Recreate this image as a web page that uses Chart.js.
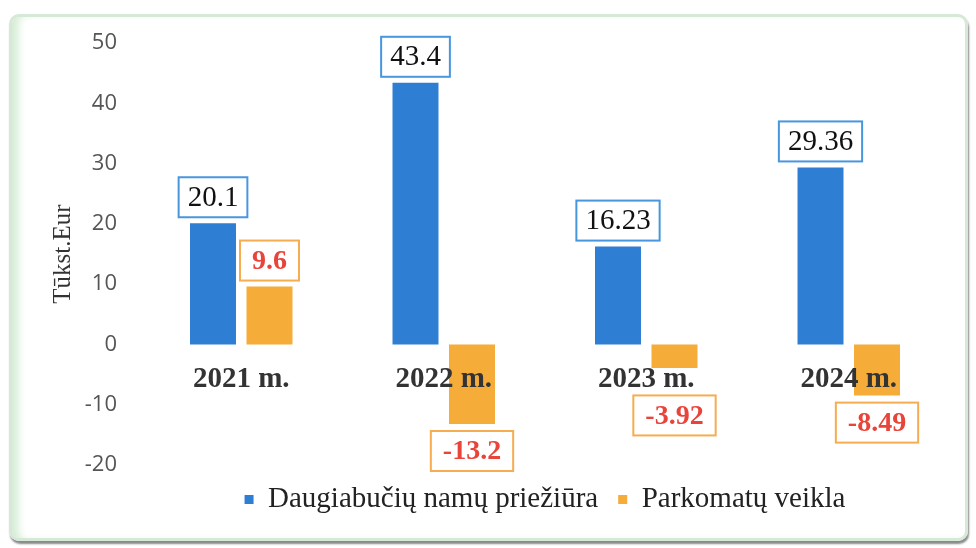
<!DOCTYPE html>
<html>
<head>
<meta charset="utf-8">
<script src="https://cdn.jsdelivr.net/npm/chart.js@4"></script>
<style>
    html, body { margin: 0; padding: 0; background: #fff; }
    #wrap { position: relative; width: 976px; height: 548px; }
    #frame {
        position: absolute; left: 9px; top: 14px; width: 953px; height: 521px;
        border: 3px solid #d6e8d6; border-radius: 10px;
        box-shadow: inset 10px 0 8px -4px #d4ecd4, 1px 3px 2px #8a8a8a;
    }
    canvas { position: absolute; left: 0; top: 0; }
</style>
</head>
<body>
<div id="wrap">
    <div id="frame"></div>
    <canvas id="chart" width="976" height="548"></canvas>
</div>
<script>
const YEARS = ["2021 m.", "2022 m.", "2023 m.", "2024 m."];
const NAMAI = [20.1, 43.4, 16.23, 29.36];
const PARKOMATAI = [9.6, -13.2, -3.92, -8.49];
const Y_TICKS = { min: -20, max: 50, step: 10 };

const BLUE = "rgb(46, 126, 212)";
const ORANGE = "rgb(245, 172, 56)";

// value boxes above / below each bar
const valueBoxes = {
    id: "valueBoxes",
    afterDatasetsDraw(chart) {
        const ctx = chart.ctx;
        const zeroY = chart.scales.y.getPixelForValue(0);
        chart.data.datasets.forEach((ds, di) => {
            const meta = chart.getDatasetMeta(di);
            const st = ds.boxStyle;
            meta.data.forEach((bar, i) => {
                const v = ds.data[i];
                const text = String(v);
                ctx.save();
                ctx.font = st.font;
                const w = ctx.measureText(text).width + st.padX * 2;
                const h = 40;
                let top;
                if (v >= 0) {
                    top = bar.y - 6 - h;
                } else {
                    // keep clear of the category label under the zero line
                    top = Math.max(bar.y + 7, zeroY + 51);
                }
                const left = bar.x - w / 2;
                ctx.fillStyle = "#fff";
                ctx.fillRect(left, top, w, h);
                ctx.lineWidth = 2;
                ctx.strokeStyle = st.border;
                ctx.strokeRect(left, top, w, h);
                ctx.fillStyle = st.color;
                ctx.textAlign = "center";
                ctx.textBaseline = "middle";
                ctx.fillText(text, bar.x, top + h / 2 + 1);
                ctx.restore();
            });
        });
    }
};

new Chart(
    document.getElementById("chart").getContext("2d"),
    {
        type: "bar",
        data: {
            labels: YEARS,
            datasets: [
                {
                    label: "Daugiabučių namų priežiūra",
                    data: NAMAI,
                    backgroundColor: BLUE,
                    categoryPercentage: 0.558,
                    barPercentage: 0.814,
                    boxStyle: { font: "29px 'Liberation Serif', serif", color: "#111", border: "rgb(72, 150, 222)", padX: 9 }
                },
                {
                    label: "Parkomatų veikla",
                    data: PARKOMATAI,
                    backgroundColor: ORANGE,
                    categoryPercentage: 0.558,
                    barPercentage: 0.814,
                    boxStyle: { font: "bold 28px 'Liberation Serif', serif", color: "rgb(232, 68, 58)", border: "rgb(246, 172, 80)", padX: 12 }
                }
            ]
        },
        options: {
            responsive: false,
            animation: false,
            layout: { padding: { left: 48, right: 26, top: 43, bottom: 24 } },
            plugins: {
                tooltip: { enabled: false },
                legend: {
                    position: "bottom",
                    fullSize: false,
                    labels: {
                        boxWidth: 9,
                        boxHeight: 9,
                        padding: 20,
                        color: "#222",
                        font: { family: "'Liberation Serif', serif", size: 29 }
                    }
                }
            },
            scales: {
                x: {
                    position: { y: 0 },
                    grid: { display: false, drawTicks: false },
                    border: { display: false },
                    ticks: {
                        z: 1, // year labels sit on top of the bars
                        padding: 18,
                        color: "#333",
                        font: { family: "'Liberation Serif', serif", size: 29, weight: "bold" }
                    }
                },
                y: {
                    min: Y_TICKS.min,
                    max: Y_TICKS.max,
                    grid: { display: false, drawTicks: false },
                    border: { display: false },
                    afterFit: (scale) => { scale.width = 92; },
                    title: {
                        display: true,
                        text: "Tūkst.Eur",
                        color: "#333",
                        padding: 0,
                        font: { family: "'Liberation Serif', serif", size: 25 }
                    },
                    ticks: {
                        stepSize: Y_TICKS.step,
                        padding: 23,
                        color: "#555",
                        font: { family: "'Open Sans', sans-serif", size: 22 }
                    }
                }
            }
        },
        plugins: [valueBoxes]
    }
);
</script>
</body>
</html>
